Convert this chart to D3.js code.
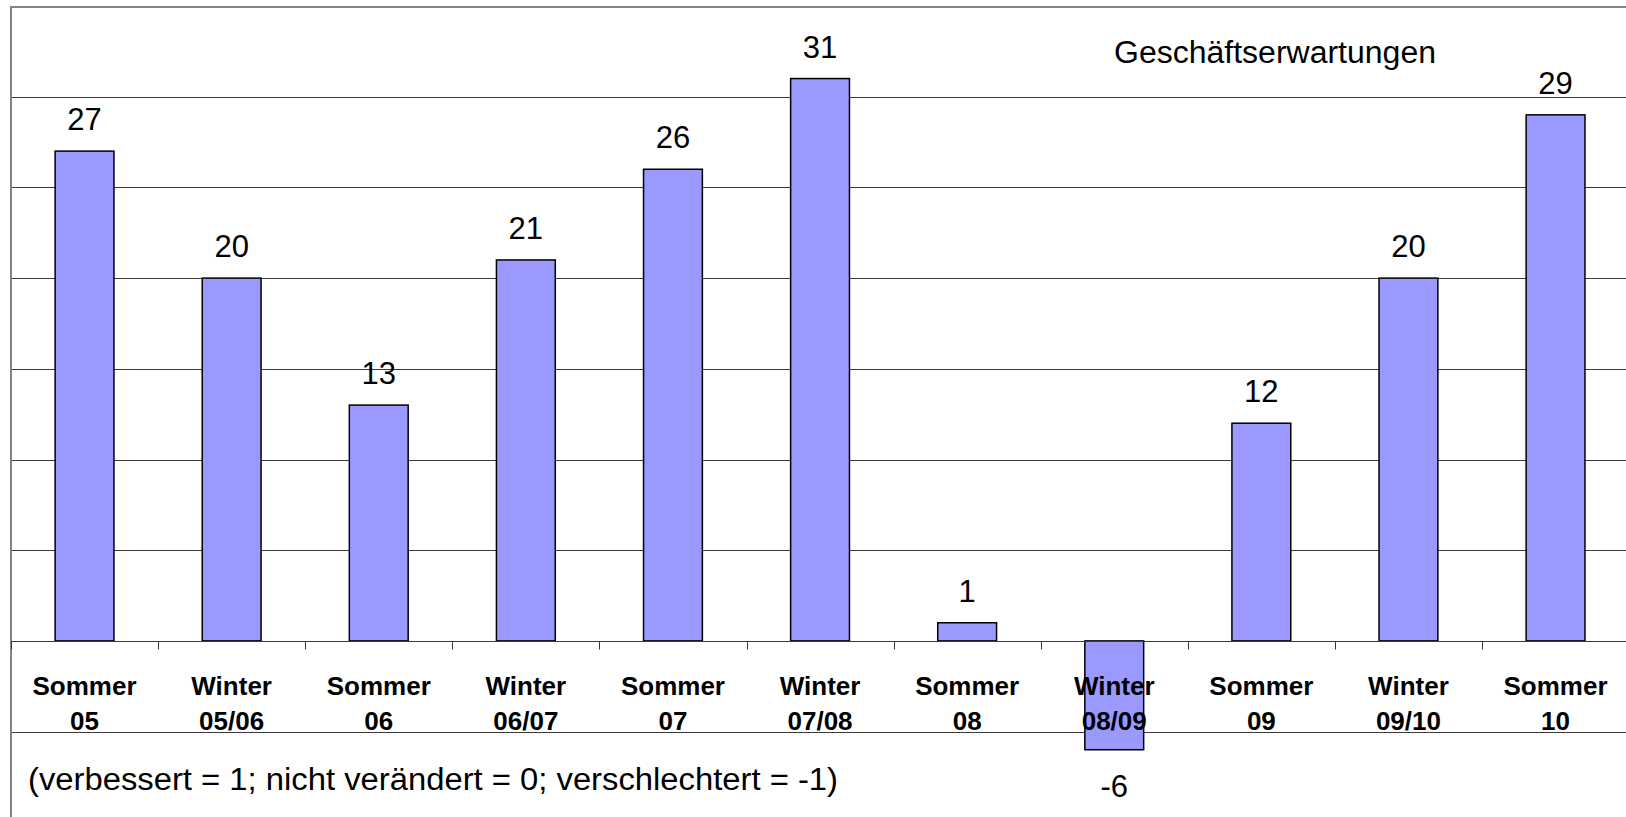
<!DOCTYPE html>
<html>
<head>
<meta charset="utf-8">
<script src="https://cdn.jsdelivr.net/npm/d3@7"></script>
<style>
  html, body { margin: 0; padding: 0; background: #fff; }
  svg { display: block; font-family: "Liberation Sans", Arial, sans-serif; }
</style>
</head>
<body>
<div id="chart"></div>
<script>
var seasons = ["Sommer", "Winter", "Sommer", "Winter", "Sommer", "Winter", "Sommer", "Winter", "Sommer", "Winter", "Sommer"];
var years = ["05", "05/06", "06", "06/07", "07", "07/08", "08", "08/09", "09", "09/10", "10"];
var values = [27, 20, 13, 21, 26, 31, 1, -6, 12, 20, 29];
var gridValues = [-5, 5, 10, 15, 20, 25, 30];
var title = "Geschäftserwartungen";
var note = "(verbessert = 1; nicht verändert = 0; verschlechtert = -1)";

var width = 1626,
	height = 817;
var plotLeft = 11,
	plotTop = 6;
var unit = 18.14;

var categories = years.map(function(d, i) { return seasons[i] + " " + d; });

var svg = d3.select("#chart").append("svg")
	.attr("width", width)
	.attr("height", height);

var x = d3.scaleBand()
	.domain(categories)
	.range([plotLeft, plotLeft + 11 * 147.1])
	.paddingInner(0.6)
	.paddingOuter(0.3);

var y = d3.scaleLinear()
	.domain([-10, 35])
	.range([plotTop + 45 * unit, plotTop]);

var step = x.step();

// grid lines
svg.append("g").selectAll("line")
	.data(gridValues)
	.enter().append("line")
	.attr("x1", plotLeft)
	.attr("x2", width)
	.attr("y1", function(d) { return Math.round(y(d)) + 0.5; })
	.attr("y2", function(d) { return Math.round(y(d)) + 0.5; })
	.attr("stroke", "#3a3a3a")
	.attr("stroke-width", 1);

// plot border (top + left)
svg.append("line")
	.attr("x1", plotLeft).attr("x2", width)
	.attr("y1", Math.round(y(35)) + 1).attr("y2", Math.round(y(35)) + 1)
	.attr("stroke", "#858585").attr("stroke-width", 2);
svg.append("line")
	.attr("x1", plotLeft).attr("x2", plotLeft)
	.attr("y1", y(35)).attr("y2", height)
	.attr("stroke", "#858585").attr("stroke-width", 2);

// bars
svg.append("g").selectAll("rect")
	.data(values)
	.enter().append("rect")
	.attr("x", function(d, i) { return x(categories[i]); })
	.attr("width", x.bandwidth())
	.attr("y", function(d) { return y(Math.max(0, d)); })
	.attr("height", function(d) { return Math.abs(y(d) - y(0)); })
	.attr("fill", "#9999ff")
	.attr("stroke", "#000")
	.attr("stroke-width", 1.5);

// zero axis with ticks between categories
var zeroY = Math.round(y(0)) + 0.5;
svg.append("line")
	.attr("x1", plotLeft).attr("x2", width)
	.attr("y1", zeroY).attr("y2", zeroY)
	.attr("stroke", "#3a3a3a").attr("stroke-width", 1);
svg.append("g").selectAll("line")
	.data(d3.range(categories.length + 1))
	.enter().append("line")
	.attr("x1", function(i) { return Math.round(plotLeft + i * step) + 0.5; })
	.attr("x2", function(i) { return Math.round(plotLeft + i * step) + 0.5; })
	.attr("y1", zeroY)
	.attr("y2", zeroY + 8)
	.attr("stroke", "#3a3a3a").attr("stroke-width", 1);

// category labels
var labels = svg.append("g").selectAll("text")
	.data(categories)
	.enter().append("text")
	.attr("text-anchor", "middle")
	.attr("font-size", 26)
	.attr("font-weight", "bold")
	.attr("fill", "#000");
labels.append("tspan")
	.attr("x", function(d) { return x(d) + x.bandwidth() / 2; })
	.attr("y", 695)
	.text(function(d, i) { return seasons[i]; });
labels.append("tspan")
	.attr("x", function(d) { return x(d) + x.bandwidth() / 2; })
	.attr("y", 730)
	.text(function(d, i) { return years[i]; });

// value labels
svg.append("g").selectAll("text")
	.data(values)
	.enter().append("text")
	.attr("x", function(d, i) { return x(categories[i]) + x.bandwidth() / 2; })
	.attr("y", function(d) { return d >= 0 ? y(d) - 21 : y(d) + 47; })
	.attr("text-anchor", "middle")
	.attr("font-size", 31)
	.attr("fill", "#000")
	.text(function(d) { return d; });

// title and note
svg.append("text")
	.attr("x", 1114)
	.attr("y", 63)
	.attr("font-size", 31)
	.attr("textLength", 322)
	.attr("lengthAdjust", "spacingAndGlyphs")
	.attr("fill", "#000")
	.text(title);

svg.append("text")
	.attr("x", 28)
	.attr("y", 790)
	.attr("font-size", 31)
	.attr("textLength", 810)
	.attr("lengthAdjust", "spacingAndGlyphs")
	.attr("fill", "#000")
	.text(note);
</script>
</body>
</html>
